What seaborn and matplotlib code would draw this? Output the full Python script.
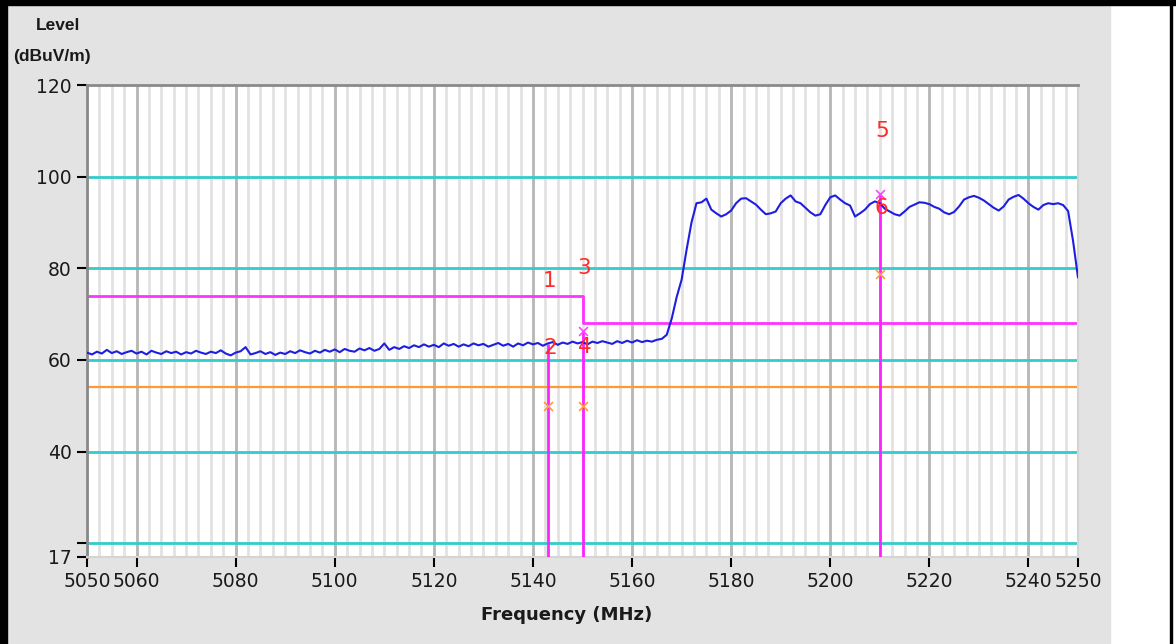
import numpy as np
import pandas as pd
import matplotlib
matplotlib.use("Agg")
import matplotlib.pyplot as plt
import seaborn as sns
from matplotlib.patches import Rectangle

# ---------------- data ----------------
# measured trace, 1 MHz steps, 5050 .. 5166 MHz
trace_low = [
    61.6, 61.2, 61.8, 61.4, 62.2, 61.5, 61.9, 61.3, 61.7, 62.0,
    61.4, 61.8, 61.2, 62.0, 61.6, 61.3, 61.9, 61.5, 61.8, 61.2,
    61.7, 61.4, 62.0, 61.6, 61.3, 61.8, 61.5, 62.1, 61.4, 61.0,
    61.6, 61.9, 62.8, 61.2, 61.5, 61.9, 61.3, 61.7, 61.1, 61.6,
    61.3, 61.9, 61.5, 62.1, 61.7, 61.4, 62.0, 61.6, 62.2, 61.8,
    62.3, 61.7, 62.4, 62.0, 61.8, 62.5, 62.1, 62.6, 62.0, 62.4,
    63.6, 62.2, 62.8, 62.4, 63.0, 62.6, 63.2, 62.8, 63.4, 62.9,
    63.3, 62.8, 63.6, 63.1, 63.5, 62.9, 63.4, 63.0, 63.6, 63.2,
    63.5, 62.9, 63.3, 63.7, 63.1, 63.5, 62.9, 63.6, 63.2, 63.8,
    63.4, 63.7, 63.1, 63.6, 63.9, 63.3, 63.8, 63.5, 64.0, 63.6,
    63.9, 63.4, 64.0, 63.7, 64.1, 63.8, 63.5, 64.1, 63.7, 64.2,
    63.8, 64.3, 63.9, 64.2, 64.0, 64.4, 64.6,
]
# 5167 .. 5250 MHz
trace_high = [
    65.5, 69.0, 73.7, 77.5, 84.0, 90.0, 94.2, 94.4, 95.2, 92.8,
    92.0, 91.3, 91.8, 92.6, 94.2, 95.2, 95.3, 94.6, 93.9, 92.8,
    91.8, 92.0, 92.4, 94.2, 95.2, 95.9, 94.6, 94.2, 93.2, 92.2,
    91.5, 91.8, 93.8, 95.5, 95.9, 95.0, 94.2, 93.7, 91.3, 92.0,
    92.8, 94.0, 94.6, 94.2, 93.0, 92.4, 91.8, 91.5, 92.4, 93.4,
    93.9, 94.4, 94.3, 94.0, 93.4, 93.0, 92.2, 91.8, 92.3, 93.5,
    95.0, 95.5, 95.8, 95.4, 94.8, 94.0, 93.2, 92.6, 93.5, 95.0,
    95.6, 96.0, 95.2, 94.2, 93.4, 92.8, 93.8, 94.2, 94.0, 94.2,
    93.8, 92.5, 86.0, 78.0,
]
trace_level = trace_low + trace_high
trace_freq = list(range(5050, 5251))
assert len(trace_freq) == len(trace_level)

# limit lines
limit_freq = [5050, 5150, 5250]
limit_peak = [74, 68]          # magenta limit
limit_avg = 54                 # orange limit

# markers
marker_freq = [5143, 5150, 5210]
marker_peak = [63.5, 66.3, 96.2]
marker_avg = [50.0, 50.0, 78.7]
marker_labels_peak = ["1", "3", "5"]
marker_labels_avg = ["2", "4", "6"]

cyan_levels = [20, 40, 60, 80, 100]
x_ticks = [5050, 5060, 5080, 5100, 5120, 5140, 5160, 5180, 5200, 5220, 5240, 5250]
y_ticks = [17, 20, 40, 60, 80, 100, 120]
y_ticklabels = ["17", "", "40", "60", "80", "100", "120"]

df = pd.DataFrame({"Frequency": trace_freq, "Level": trace_level})

# ---------------- figure ----------------
sns.set_theme(style="white")
plt.rcParams["font.family"] = ["DejaVu Sans"]

W, H = 1176, 644
fig = plt.figure(figsize=(W / 100, H / 100), dpi=100)
fig.patch.set_facecolor("white")

fig.add_artist(Rectangle((7 / W, 0), (1110 - 7) / W, (H - 5) / H,
                         transform=fig.transFigure, color="#e3e3e3", zorder=-10))
fig.add_artist(Rectangle((0, (H - 5) / H), 1, 5 / H, transform=fig.transFigure,
                         color="black", zorder=-9))
fig.add_artist(Rectangle((0, 0), 7 / W, 1, transform=fig.transFigure,
                         color="black", zorder=-9))
fig.add_artist(Rectangle((1170 / W, 0), 2 / W, 1, transform=fig.transFigure,
                         color="black", zorder=-9))

ax = fig.add_axes([87 / W, 1 - 557 / H, (1078 - 87) / W, (557 - 85) / H])
ax.set_facecolor("white")

# vertical grid
for f in np.arange(5050, 5250.01, 2.5):
    ax.axvline(f, color="#e2e2e2", lw=2, zorder=0)
for f in x_ticks[1:-1]:
    ax.axvline(f, color="#b8b8b8", lw=2, zorder=0.5)

# cyan horizontal lines
for lv in cyan_levels:
    ax.axhline(lv, color="#33cccc", lw=2, zorder=1)

# orange average limit
ax.axhline(limit_avg, color="#ff9933", lw=1.6, zorder=2)

# magenta peak limit (step)
ax.step(limit_freq, limit_peak + [limit_peak[-1]], where="post",
        color="#ff33ff", lw=2, zorder=2)

# marker verticals
ax.vlines(marker_freq, 17, marker_peak, color="#ff22ff", lw=2, zorder=3)

# trace
sns.lineplot(data=df, x="Frequency", y="Level", color="#1e1ee0", lw=1.5,
             ax=ax, zorder=4)

# marker crosses
ax.scatter(marker_freq[1:], marker_peak[1:], marker="x", s=40, color="#ff44ff",
           linewidths=1.2, zorder=5)
ax.scatter(marker_freq, marker_avg, marker="x", s=40, color="#ff9933",
           linewidths=1.2, zorder=5)

# marker labels
trace_at_marker = np.interp(marker_freq, trace_freq, trace_level)
for f, p, lab in zip(marker_freq, marker_peak, marker_labels_peak):
    ax.text(f + 0.4, p + 13.8, lab, color="#ff2a2a", fontsize=15.5,
            ha="center", va="center", zorder=6)
for f, t, lab in zip(marker_freq, trace_at_marker, marker_labels_avg):
    ax.text(f + 0.4, t - 1.1, lab, color="#ff2a2a", fontsize=15.5,
            ha="center", va="center", zorder=6)

ax.set_xlim(5050, 5250)
ax.set_ylim(17, 120)
ax.set_xticks(x_ticks)
ax.set_xticklabels([str(t) for t in x_ticks])
ax.set_yticks(y_ticks)
ax.set_yticklabels(y_ticklabels)
ax.tick_params(axis="both", direction="out", length=7, width=1.5, color="black",
               labelsize=13.5, labelcolor="#1a1a1a", pad=4,
               bottom=True, left=True, top=False, right=False)
ax.set_xlabel("")
ax.set_ylabel("")

for side in ["left", "top"]:
    ax.spines[side].set_color("#8a8a8a")
    ax.spines[side].set_linewidth(2)
for side in ["right", "bottom"]:
    ax.spines[side].set_color("#d4d4d4")
    ax.spines[side].set_linewidth(1.5)

lab_font = ["Liberation Sans", "DejaVu Sans"]
fig.text(58 / W, 1 - 25 / H, "Level", fontsize=12.5, fontweight="bold",
         ha="center", va="center", color="#1a1a1a", family=lab_font)
fig.text(52 / W, 1 - 56 / H, "(dBuV/m)", fontsize=12.5, fontweight="bold",
         ha="center", va="center", color="#1a1a1a", family=lab_font)
fig.text(567 / W, 1 - 615 / H, "Frequency (MHz)", fontsize=13, fontweight="bold",
         ha="center", va="center", color="#1a1a1a")

fig.savefig("out.png", dpi=100)
